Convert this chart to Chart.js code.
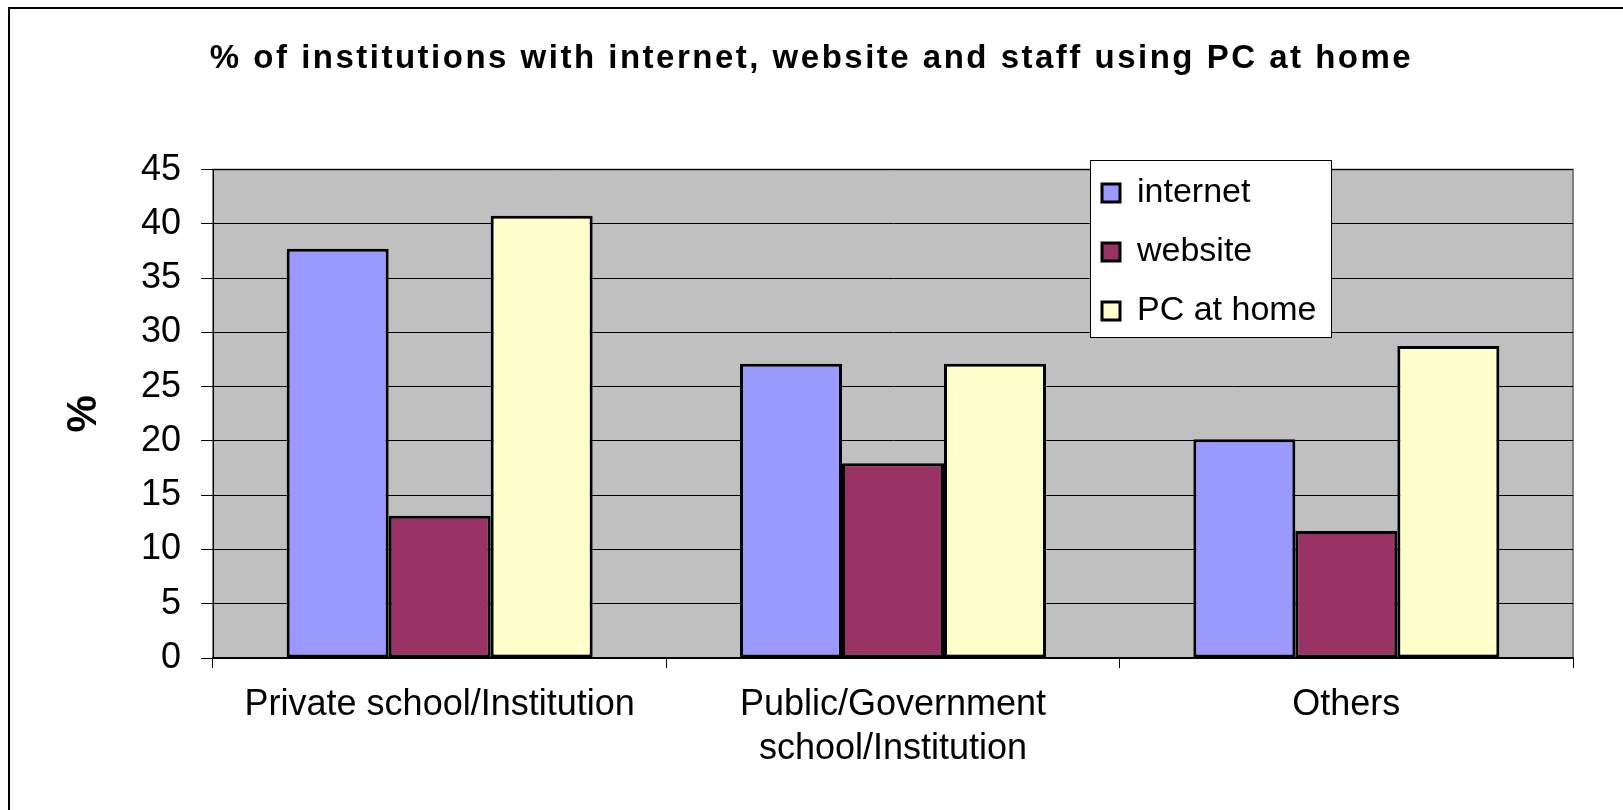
<!DOCTYPE html>
<html>
<head>
<meta charset="utf-8">
<script src="https://cdn.jsdelivr.net/npm/chart.js@4.4.1/dist/chart.umd.min.js"></script>
<style>
  html, body { margin: 0; padding: 0; background: #fff; }
  #wrap { position: relative; width: 1623px; height: 810px; overflow: hidden; }
  #frame { position: absolute; left: 8px; top: 7px; width: 1700px; height: 900px;
           border-left: 2px solid #000; border-top: 2px solid #000; pointer-events: none; }
</style>
</head>
<body>
<div id="wrap">
  <canvas id="chart" width="1623" height="810"></canvas>
  <div id="frame"></div>
</div>
<script>
// values
const categories = [['Private school/Institution'], ['Public/Government', 'school/Institution'], ['Others']];
const internet = [37.7, 27.1, 20.15];
const website = [13.1, 17.95, 11.7];
const pcAtHome = [40.75, 27.1, 28.75];
const yTicks = [0, 5, 10, 15, 20, 25, 30, 35, 40, 45];

const FONT = "'Liberation Sans', Arial, sans-serif";

// grey plot background and border like the old spreadsheet chart
const plotBackground = {
    id: 'plotBackground',
    beforeDraw(chart) {
        const a = chart.chartArea;
        const ctx = chart.ctx;
        ctx.save();
        ctx.fillStyle = '#c0c0c0';
        ctx.fillRect(a.left, a.top, a.right - a.left, a.bottom - a.top);
        ctx.strokeStyle = '#808080';
        ctx.lineWidth = 2;
        ctx.strokeRect(a.left, a.top, a.right - a.left, a.bottom - a.top);
        ctx.restore();
    }
};

// boxed legend inside the plot, and the wide-spaced title
const boxedLegend = {
    id: 'boxedLegend',
    afterInit(chart) {
        const legend = chart.legend;
        const drawLegend = legend.draw;
        legend.draw = function() {
            const ctx = chart.ctx;
            ctx.save();
            ctx.fillStyle = '#fff';
            ctx.fillRect(1090, 160, 241, 177);
            ctx.strokeStyle = '#000';
            ctx.lineWidth = 1;
            ctx.strokeRect(1090.5, 160.5, 241, 177);
            ctx.restore();
            drawLegend.apply(this, arguments);
        };
        const title = chart.titleBlock;
        const drawTitle = title.draw;
        title.draw = function() {
            chart.ctx.letterSpacing = '2.5px';
            drawTitle.apply(this, arguments);
            chart.ctx.letterSpacing = '0px';
        };
    },
    afterLayout(chart) {
        const legend = chart.legend;
        legend.left = 1077;
        legend.top = 151;
        legend.right = 1400;
        legend.bottom = 500;
        legend.width = legend.right - legend.left;
        legend.height = legend.bottom - legend.top;
        // centre the title on the whole canvas, not just the padded box
        const title = chart.titleBlock;
        title.left = 0;
        title.right = chart.width;
        title.width = chart.width;
    }
};

const ctx = document.getElementById('chart').getContext('2d');
const chart = new Chart(ctx, {
    type: 'bar',
    data: {
        labels: categories,
        datasets: [
            { label: 'internet', data: internet, backgroundColor: '#9999ff', borderColor: '#000', borderWidth: 3 },
            { label: 'website', data: website, backgroundColor: '#993366', borderColor: '#000', borderWidth: 3 },
            { label: 'PC at home', data: pcAtHome, backgroundColor: '#ffffcc', borderColor: '#000', borderWidth: 3 }
        ]
    },
    options: {
        responsive: false,
        animation: false,
        layout: { padding: { left: 0, right: 50, top: 0, bottom: 0 } },
        datasets: {
            bar: { categoryPercentage: 0.675, barPercentage: 1.0, borderSkipped: false }
        },
        plugins: {
            title: {
                display: true,
                text: '% of institutions with internet, website and staff using PC at home',
                color: '#000',
                font: { family: FONT, size: 33, weight: 'bold' },
                padding: { top: 39, bottom: 91 }
            },
            legend: {
                position: 'chartArea',
                align: 'start',
                labels: {
                    color: '#000',
                    font: { family: FONT, size: 34 },
                    boxWidth: 18,
                    boxHeight: 18,
                    padding: 25
                }
            },
            tooltip: { enabled: false }
        },
        scales: {
            x: {
                grid: { drawOnChartArea: false, offset: true, color: '#000', tickLength: 10 },
                border: { color: '#000', width: 2 },
                ticks: {
                    color: '#000',
                    font: { family: FONT, size: 36, lineHeight: 1.22 },
                    padding: 15,
                    maxRotation: 0,
                    autoSkip: false
                },
                afterFit(scale) { scale.height = 152; }
            },
            y: {
                min: 0,
                max: 45,
                afterBuildTicks(scale) { scale.ticks = yTicks.map(v => ({ value: v })); },
                grid: { color: '#000', lineWidth: 1, tickLength: 12 },
                border: { color: '#000', width: 1 },
                ticks: {
                    color: '#000',
                    font: { family: FONT, size: 36 },
                    padding: 20
                },
                title: {
                    display: true,
                    text: '%',
                    color: '#000',
                    font: { family: FONT, size: 42, weight: 'bold' },
                    padding: { top: 59, bottom: 0 }
                },
                afterFit(scale) { scale.width = 213; }
            }
        }
    },
    plugins: [plotBackground, boxedLegend]
});
</script>
</body>
</html>
